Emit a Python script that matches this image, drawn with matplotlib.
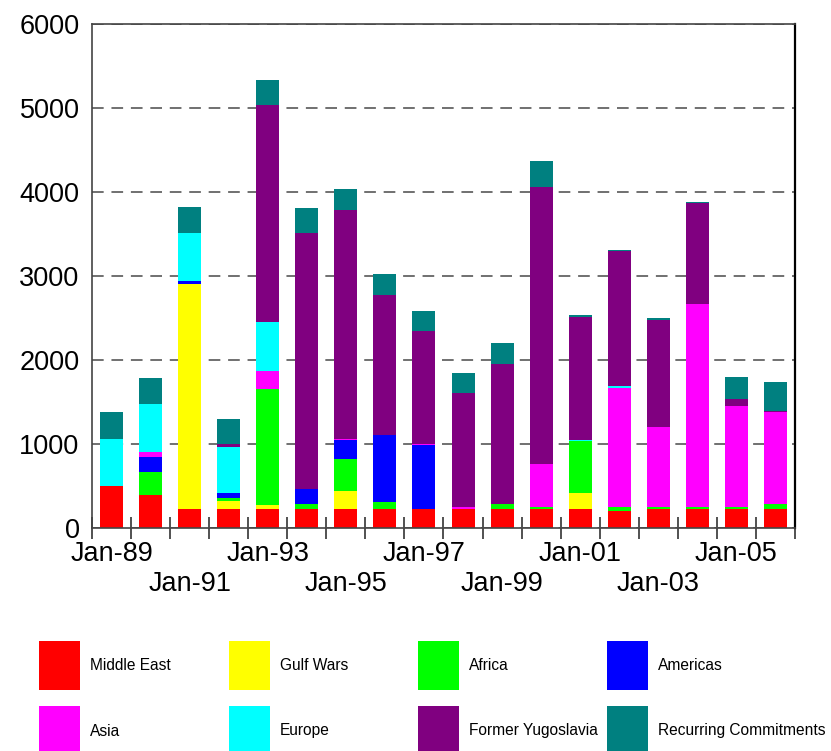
import matplotlib
matplotlib.use("Agg")
import matplotlib.pyplot as plt
from matplotlib.patches import Rectangle
import numpy as np

plt.rcParams['font.family'] = ['Liberation Sans', 'DejaVu Sans']

years = list(range(1989, 2007))
tick_labels = ["Jan-89", "\nJan-91", "Jan-93", "\nJan-95", "Jan-97",
               "\nJan-99", "Jan-01", "\nJan-03", "Jan-05"]

series_names = ["Middle East", "Gulf Wars", "Africa", "Americas",
                "Asia", "Europe", "Former Yugoslavia", "Recurring Commitments"]
colors = ["#FF0000", "#FFFF00", "#00FF00", "#0000FF",
          "#FF00FF", "#00FFFF", "#800080", "#008080"]

middle_east = [500, 390, 230, 230, 230, 230, 230, 230, 230, 230, 230, 230, 230, 200, 230, 230, 230, 230]
gulf_wars = [0, 0, 2675, 95, 40, 0, 210, 0, 0, 0, 0, 0, 190, 0, 0, 0, 0, 0]
africa = [0, 280, 0, 36, 1385, 55, 380, 80, 0, 0, 60, 25, 615, 55, 25, 25, 25, 60]
americas = [0, 180, 35, 50, 0, 180, 225, 800, 755, 0, 0, 0, 0, 0, 0, 0, 0, 0]
asia = [0, 60, 0, 0, 215, 0, 15, 0, 15, 25, 0, 510, 0, 1415, 950, 2410, 1195, 1090]
europe = [560, 570, 570, 556, 583, 0, 0, 0, 0, 0, 0, 0, 12, 24, 0, 0, 0, 0]
former_yugoslavia = [0, 0, 0, 36, 2585, 3050, 2730, 1665, 1345, 1350, 1660, 3290, 1470, 1600, 1275, 1200, 85, 12]
recurring = [320, 310, 310, 300, 297, 300, 250, 250, 240, 240, 250, 320, 24, 16, 20, 12, 262, 345]

data = [middle_east, gulf_wars, africa, americas, asia, europe, former_yugoslavia, recurring]

fig = plt.figure(figsize=(8.31, 7.51), dpi=100)
ax = fig.add_axes([92/831, (751-528)/751, (795-92)/831, 504/751])

x = np.arange(len(years))
bottom = np.zeros(len(years))
for vals, col, name in zip(data, colors, series_names):
    v = np.array(vals, dtype=float)
    ax.bar(x, v, width=0.59, bottom=bottom, color=col, linewidth=0, label=name, zorder=2)
    bottom += v

ax.set_xlim(-0.5, 17.5)
ax.set_ylim(0, 6000)
ax.set_yticks(np.arange(0, 6001, 1000))
ax.tick_params(axis='y', length=0, pad=9, labelsize=19.5)
ax.yaxis.grid(True, linestyle=(0, (6, 4)), color='#707070', linewidth=1.4, zorder=1)
ax.set_axisbelow(True)

ax.set_xticks(x[::2])
ax.set_xticklabels(tick_labels, fontsize=19.5, linespacing=1.2)
ax.tick_params(axis='x', which='major', length=0, pad=9.5)
ax.set_xticks(np.arange(-0.5, 17.6, 1), minor=True)
ax.tick_params(axis='x', which='minor', length=16, width=1.2, direction='inout', color='#333333')

for s in ['left', 'bottom', 'top']:
    ax.spines[s].set_color('#444444')
    ax.spines[s].set_linewidth(1.2)
ax.spines['right'].set_color('black')
ax.spines['right'].set_linewidth(1.6)

# legend drawn in a figure-wide overlay in pixel coordinates
lax = fig.add_axes([0, 0, 1, 1], zorder=-1)
lax.set_xlim(0, 831)
lax.set_ylim(751, 0)
lax.axis('off')
col_x = [39, 229, 418, 607]
row_y = [641, 706]
for i, (name, col) in enumerate(zip(series_names, colors)):
    r, c = divmod(i, 4)
    lax.add_patch(Rectangle((col_x[c], row_y[r]), 41, 49, facecolor=col, linewidth=0))
    lax.text(col_x[c] + 51, row_y[r] + 25, name, fontsize=11.2, va='center', ha='left')

fig.savefig("out.png", dpi=100)
